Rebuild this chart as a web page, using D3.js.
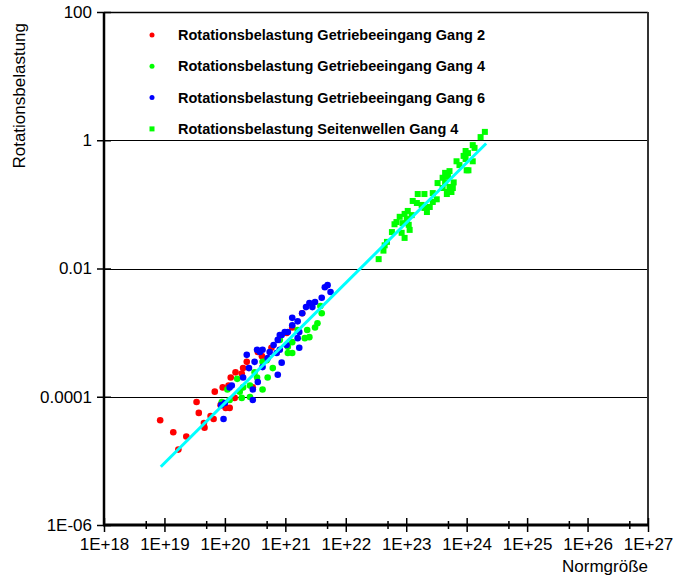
<!DOCTYPE html>
<html>
<head>
<meta charset="utf-8">
<style type="text/css">
	body { margin: 0; background: #fff; }
	.vis-load text { font-family: "Liberation Sans", Arial, sans-serif; fill: #000; }
	.grid-load { stroke: #000; stroke-width: 1; shape-rendering: crispEdges; }
	.legend-load { font-weight: 700; font-size: 14.5px; }
	.tick-load { font-size: 17px; }
</style>
</head>
<body>
<div class="vis-load"></div>

<script src="https://d3js.org/d3.v7.min.js"></script>
<script>

	// Data //
	// ---- //

	// Rotationsbelastung Getriebeeingang Gang 2
	let gang2X = [8.5e18, 1.4e19, 1.7e19, 2.3e19, 3.4e19, 3.7e19, 4.5e19, 4.6e19, 5.8e19, 6.5e19,
		6.8e19, 9.2e19, 8.5e19, 1.03e20, 1.2e20, 1.15e20, 1.45e20, 1.25e20, 1.9e20, 2.3e20,
		5.9e20, 2.9e20, 8.9e19, 1.9e21, 1.3e21, 2.0e20, 1.05e21, 4.1e20, 1.5e20, 3.5e20];
	let gang2Y = [4.3e-5, 2.8e-5, 1.5e-5, 2.4e-5, 8.3e-5, 5.6e-5, 3.9e-5, 3.3e-5, 5.0e-5, 4.5e-5,
		1.2e-4, 1.4e-4, 7.4e-5, 6.7e-5, 6.7e-5, 1.5e-4, 9.6e-5, 2.0e-4, 2.3e-4, 3.5e-4,
		5.8e-4, 1.4e-4, 8.0e-5, 2.0e-3, 1.2e-3, 2.8e-4, 9.9e-4, 4.3e-4, 2.4e-4, 5.0e-4];

	// Rotationsbelastung Getriebeeingang Gang 4
	let gang4X = [8.9e19, 1.1e20, 1.6e20, 1.9e20, 2.0e20, 2.6e20, 3.4e20, 4.2e20, 5.1e20, 6.2e20,
		1.1e21, 4.2e20, 2.6e20, 1.2e20, 4.0e21, 3.4e21, 3.1e21, 2.5e21, 2.1e21, 2.3e21,
		1.3e21, 1.3e21, 1.1e21, 3.8e21, 4.9e20, 1.76e20, 3.1e20, 8.1e20, 1.6e21];
	let gang4Y = [8.3e-5, 1.3e-4, 1.9e-4, 9.6e-5, 1.4e-4, 1.5e-4, 2.0e-4, 3.5e-4, 2.0e-4, 2.8e-4,
		4.8e-4, 1.3e-4, 9.9e-5, 8.9e-5, 2.0e-3, 1.4e-3, 1.2e-3, 8.5e-4, 8.2e-4, 1.1e-3,
		7.1e-4, 4.8e-4, 6.0e-4, 2.6e-3, 3.7e-4, 1.2e-4, 2.4e-4, 7.7e-4, 1.1e-3];

	// Rotationsbelastung Getriebeeingang Gang 6
	let gang6X = [9.5e19, 8.7e19, 1.2e20, 2.3e20, 3.4e20, 3.8e20, 2.5e20, 3.1e20, 1.3e20, 1.0e20,
		2.9e20, 3.5e20, 2.9e20, 8.1e20, 9.8e20, 7.2e20, 8.7e20, 7.5e20, 4.2e20, 5.5e20,
		1.05e21, 2.0e20, 5.0e21, 4.5e21, 5.6e21, 4.0e21, 3.1e21, 2.5e21, 2.2e21, 2.8e21,
		1.9e21, 1.6e21, 1.3e21, 1.1e21, 8.7e20, 7.5e20, 1.7e21, 1.6e21, 1.7e21, 8.1e20,
		4.2e20, 5.1e20, 6.4e20, 1.3e21];
	let gang6Y = [4.5e-5, 7.4e-5, 1.4e-4, 4.5e-4, 5.4e-4, 5.0e-4, 2.8e-4, 3.5e-4, 1.5e-4, 8.0e-5,
		8.9e-5, 1.7e-4, 1.3e-4, 9.2e-4, 1.02e-3, 4.8e-4, 3.4e-4, 2.2e-4, 2.9e-4, 5.0e-4,
		6.4e-4, 2.0e-4, 5.5e-3, 5.1e-3, 4.3e-3, 3.5e-3, 3.0e-3, 2.9e-3, 2.5e-3, 2.5e-3,
		2.0e-3, 1.5e-3, 1.3e-3, 1.02e-3, 9.2e-4, 7.7e-4, 1.02e-3, 8.2e-4, 5.8e-4, 5.4e-4,
		5.4e-4, 4.0e-4, 6.4e-4, 1.7e-3];

	// Rotationsbelastung Seitenwellen Gang 4
	let sideX = [2.0e24, 1.7e24, 1.26e24, 1.35e24, 9.6e23, 1.05e24, 8.9e23, 9.6e23, 1.26e24, 6.8e23,
		7.6e23, 1.0e24, 1.07e24, 5.2e23, 4.4e23, 4.9e23, 4.0e23, 6.1e23, 4.4e23, 3.3e23,
		5.2e23, 5.9e23, 4.0e23, 4.9e23, 5.6e23, 4.7e23, 2.75e23, 1.55e23, 2.0e23, 3.2e23,
		2.75e23, 1.28e23, 1.5e23, 1.8e23, 2.45e23, 2.0e23, 2.2e23, 1.06e23, 9.4e22, 1.23e23,
		7.8e22, 1.02e23, 6.9e22, 8.7e22, 6.4e22, 1.1e23, 1.14e23, 5.8e22, 8.4e22, 9.4e22,
		4.8e22, 4.4e22, 4.2e22, 3.5e22];
	let sideY = [1.35, 1.12, 0.84, 0.76, 0.68, 0.63, 0.57, 0.51, 0.47, 0.47,
		0.41, 0.34, 0.34, 0.33, 0.31, 0.27, 0.26, 0.22, 0.22, 0.215,
		0.187, 0.18, 0.18, 0.156, 0.156, 0.145, 0.15, 0.145, 0.145, 0.12,
		0.109, 0.113, 0.105, 0.098, 0.091, 0.088, 0.076, 0.079, 0.071, 0.068,
		0.064, 0.059, 0.053, 0.051, 0.049, 0.048, 0.040, 0.037, 0.036, 0.030,
		0.026, 0.023, 0.019, 0.014];

	// Regression line (end points)
	let fitX = [8.7e18, 2.1e24];
	let fitY = [8.1e-6, 0.89];

	// Axis ticks
	let xTicks = [1e18, 1e19, 1e20, 1e21, 1e22, 1e23, 1e24, 1e25, 1e26, 1e27];
	let xTickLabels = ["1E+18", "1E+19", "1E+20", "1E+21", "1E+22", "1E+23", "1E+24", "1E+25", "1E+26", "1E+27"];
	let xMinorTicks = [5e18, 5e19, 5e20, 5e21, 5e22, 5e23, 5e24, 5e25, 5e26];
	let yTicks = [1e-6, 1e-4, 1e-2, 1, 100];
	let yTickLabels = ["1E-06", "0.0001", "0.01", "1", "100"];

	let legendLabels = [
		"Rotationsbelastung Getriebeeingang Gang 2",
		"Rotationsbelastung Getriebeeingang Gang 4",
		"Rotationsbelastung Getriebeeingang Gang 6",
		"Rotationsbelastung Seitenwellen Gang 4"
	];

	// ----- //
	// Setup //
	// ----- //

	let W = 675, H = 576;
	let margin = {top: 12, right: 27, bottom: 51, left: 104},
		width = W - margin.left - margin.right,
		height = H - margin.top - margin.bottom;

	let x = d3.scaleLog().domain([1e18, 1e27]).range([0, width]);
	let y = d3.scaleLog().domain([1e-6, 100]).range([height, 0]);

	let svg = d3.select(".vis-load")
		.append("svg")
			.attr("width", W)
			.attr("height", H)
		.append("g")
			.attr("transform", "translate(" + margin.left + "," + margin.top + ")");

	// GRID
	svg.selectAll(".grid-load")
		.data(yTicks.slice(1, 4)).enter().append("line")
		.attr("class", "grid-load")
		.attr("x1", 0).attr("x2", width)
		.attr("y1", d => Math.round(y(d)) + 0.5)
		.attr("y2", d => Math.round(y(d)) + 0.5);

	// FRAME (top and right)
	svg.append("line")
		.attr("x1", 0).attr("x2", width)
		.attr("y1", 0.5).attr("y2", 0.5)
		.style("stroke", "#000").style("stroke-width", 1.5);
	svg.append("line")
		.attr("x1", width).attr("x2", width)
		.attr("y1", 0).attr("y2", height)
		.style("stroke", "#333").style("stroke-width", 2);

	// X-AXIS
	let xAxis = d3.axisBottom(x).tickValues(xTicks).tickSize(7).tickPadding(0)
		.tickFormat((d, i) => xTickLabels[i]);
	let gx = svg.append("g")
		.attr("class", "tick-load")
		.attr("transform", "translate(0," + height + ")")
		.call(xAxis);
	gx.select(".domain").remove();
	gx.selectAll(".tick line").attr("y1", -7).attr("y2", 7).style("stroke-width", 1.5);
	gx.selectAll(".tick text")
		.attr("y", 25).attr("dy", 0)
		.style("font-size", "17px")
		.style("font-family", "'Liberation Sans', Arial, sans-serif");
	svg.selectAll(".minor-load")
		.data(xMinorTicks).enter().append("line")
		.attr("class", "minor-load")
		.attr("x1", d => x(d)).attr("x2", d => x(d))
		.attr("y1", height - 4).attr("y2", height + 4)
		.style("stroke", "#000").style("stroke-width", 1.5);

	// Y-AXIS
	let yAxis = d3.axisLeft(y).tickValues(yTicks).tickSize(7).tickPadding(5)
		.tickFormat((d, i) => yTickLabels[i]);
	let gy = svg.append("g")
		.attr("class", "tick-load")
		.call(yAxis);
	gy.select(".domain").remove();
	gy.selectAll(".tick line").attr("x1", 7).attr("x2", -7).style("stroke-width", 1.5);
	gy.selectAll(".tick text")
		.style("font-size", "17px")
		.style("font-family", "'Liberation Sans', Arial, sans-serif");

	// Axis lines
	svg.append("line")
		.attr("x1", 0).attr("x2", 0)
		.attr("y1", 0).attr("y2", height)
		.style("stroke", "#000").style("stroke-width", 2.5);
	svg.append("line")
		.attr("x1", -1).attr("x2", width)
		.attr("y1", height).attr("y2", height)
		.style("stroke", "#000").style("stroke-width", 3);

	// LABELS
	svg.append("text")
		.attr("transform", "rotate(-90)")
		.attr("x", 1 - margin.top)
		.attr("y", 25 - margin.left)
		.style("text-anchor", "end")
		.style("font-size", "17px")
		.text("Rotationsbelastung");

	svg.append("text")
		.attr("x", width)
		.attr("y", 572 - margin.top)
		.style("text-anchor", "end")
		.style("font-size", "17px")
		.text("Normgröße");

	// POINTS
	function dots(xs, ys, color) {
		svg.append("g").selectAll("circle")
			.data(d3.zip(xs, ys)).enter().append("circle")
			.attr("cx", d => x(d[0]))
			.attr("cy", d => y(d[1]))
			.attr("r", 3.3)
			.style("fill", color);
	}
	dots(gang2X, gang2Y, "#ff0000");
	dots(gang4X, gang4Y, "#00ff00");
	dots(gang6X, gang6Y, "#0000ff");

	svg.append("g").selectAll("rect")
		.data(d3.zip(sideX, sideY)).enter().append("rect")
		.attr("x", d => x(d[0]) - 3)
		.attr("y", d => y(d[1]) - 3)
		.attr("width", 6)
		.attr("height", 6)
		.style("fill", "#00ff00");

	// FIT LINE
	svg.append("path")
		.datum(d3.zip(fitX, fitY))
		.attr("d", d3.line().x(d => x(d[0])).y(d => y(d[1])))
		.style("stroke", "#00ffff")
		.style("stroke-width", 3)
		.style("fill", "none");

	// LEGEND
	let legend = svg.append("g").attr("transform", "translate(48,23)");
	let legendColors = ["#ff0000", "#00ff00", "#0000ff", "#00ff00"];
	legendLabels.forEach((label, i) => {
		let g = legend.append("g").attr("transform", "translate(0," + (i * 31.3) + ")");
		if (i < 3) {
			g.append("circle").attr("cx", 0).attr("cy", 0).attr("r", 2.5).style("fill", legendColors[i]);
		} else {
			g.append("rect").attr("x", -2.5).attr("y", -2.5).attr("width", 5).attr("height", 5).style("fill", legendColors[i]);
		}
		g.append("text")
			.attr("class", "legend-load")
			.attr("x", 26)
			.attr("y", 5)
			.text(label);
	});
</script>
</body>
</html>
